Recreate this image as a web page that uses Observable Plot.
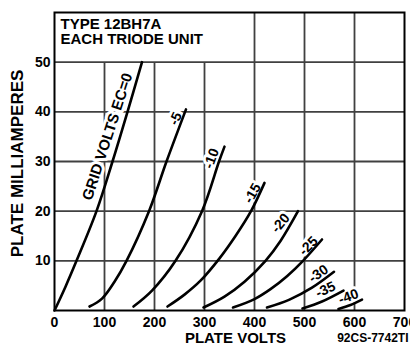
<!DOCTYPE html>
<html><head><meta charset="utf-8">
<script src="https://cdn.jsdelivr.net/npm/d3@7"></script>
<script src="https://cdn.jsdelivr.net/npm/@observablehq/plot@0.6"></script>
<style>html,body{margin:0;padding:0;background:#fff;}</style>
</head><body><div id="chart"></div>
<script>
// ---- data ----
const xTicks = [0, 100, 200, 300, 400, 500, 600, 700];
const yTicks = [10, 20, 30, 40, 50];
const gridVolts = ["0", "-5", "-10", "-15", "-20", "-25", "-30", "-35", "-40"];

// plate characteristic curves: [plate volts, plate mA]
const ec0  = [[0, 0], [22, 4.8], [44, 10], [84, 20], [116, 30], [146, 40], [175, 50]];
const ec5  = [[70, 0.8], [95, 2.4], [120, 5.8], [144, 10], [189, 20], [224, 30], [263, 40.5]];
const ec10 = [[158, 0.8], [195, 4], [242, 10], [295, 20], [329, 30], [340, 33]];
const ec15 = [[226, 0.8], [260, 3.2], [292, 6], [330, 10.5], [362, 15], [393, 20], [420, 25.7]];
const ec20 = [[298, 0.6], [340, 2.8], [380, 5.8], [422, 10], [452, 14], [487, 20]];
const ec25 = [[357, 0.6], [400, 2.3], [432, 4.3], [465, 6.9], [497, 10], [535, 14.3]];
const ec30 = [[425, 0.6], [470, 2.2], [515, 4.6], [559, 7.8]];
const ec35 = [[496, 0.4], [535, 1.8], [578, 4]];
const ec40 = [[568, 0.3], [592, 1.1], [615, 2.2]];

const curveLabels = ["GRID VOLTS EC=0", "-5", "-10", "-15", "-20", "-25", "-30", "-35", "-40"];
const labelVolts  = [106, 242, 314, 396, 452, 508, 528, 542, 588];
const labelMA     = [35, 38.6, 30.6, 23.6, 17.6, 13, 7.4, 4.2, 2.8];
const labelAngles = [-72, -65, -70, -60, -50, -45, -35, -25, -20];

const titleLines = ["TYPE 12BH7A", "EACH TRIODE UNIT"];
const xTitle = "PLATE VOLTS";
const yTitle = "PLATE MILLIAMPERES";
const drawingNo = "92CS-7742TI";

// ---- build tables ----
const curves = [ec0, ec5, ec10, ec15, ec20, ec25, ec30, ec35, ec40];
const rows = curves.flatMap((pts, k) => pts.map(([v, i]) => ({ec: gridVolts[k], v, i})));
const labels = curveLabels.map((t, k) => ({t, v: labelVolts[k], i: labelMA[k], a: labelAngles[k]}));
const xMax = xTicks[xTicks.length - 1];
const yTop = 60;
// horizontal grid lines, and vertical ones (those left of 400 V stop under the title box)
const grid = [
  ...yTicks.map(t => ({x1: 0, x2: xMax, y1: t, y2: t})),
  ...xTicks.filter(t => t > 0 && t < xMax).map(t => ({x1: t, x2: t, y1: 0, y2: t < 400 ? 50 : yTop}))
];

const font = "'Liberation Sans', Arial, Helvetica, sans-serif";
const chart = Plot.plot({
  width: 410, height: 347,
  marginLeft: 54, marginRight: 6, marginTop: 12, marginBottom: 37,
  x: {domain: [0, xMax]},
  y: {domain: [0, yTop]},
  style: {fontFamily: font, fontWeight: "bold", background: "white", color: "black", overflow: "visible"},
  marks: [
    Plot.link(grid, {x1: "x1", y1: "y1", x2: "x2", y2: "y2", stroke: "#404040", strokeWidth: 1.8}),
    Plot.frame({fill: "none", stroke: "black", strokeWidth: 2}),
    Plot.text(labels, {x: "v", y: "i", text: "t", rotate: "a", fontSize: (d, k) => k === 0 ? 15 : 14,
      fontWeight: "bold", fill: "black", stroke: "white", strokeWidth: 6}),
    Plot.line(rows, {x: "v", y: "i", z: "ec", curve: "catmull-rom", stroke: "black", strokeWidth: 2.6}),
    Plot.axisX(xTicks, {tickSize: 0, tickPadding: 7, fontSize: 14, label: null}),
    Plot.axisY(yTicks, {tickSize: 0, tickPadding: 4, fontSize: 14, label: null}),
    Plot.text(titleLines, {x: 12, y: (d, k) => k === 0 ? 57.6 : 54.6, text: d => d,
      textAnchor: "start", fontSize: 15, fill: "black"}),
    Plot.text([xTitle], {x: 362, y: 0, dy: 28, text: d => d, fontSize: 15, fill: "black"}),
    Plot.text([drawingNo], {x: xMax, y: 0, dy: 28, dx: 4, text: d => d, textAnchor: "end", fontSize: 12, fill: "black"}),
    Plot.text([yTitle], {x: 0, y: 29.6, dx: -37, text: d => d, rotate: -90, fontSize: 17, fill: "black"})
  ]
});
document.getElementById("chart").appendChild(chart);
</script>
</body></html>
